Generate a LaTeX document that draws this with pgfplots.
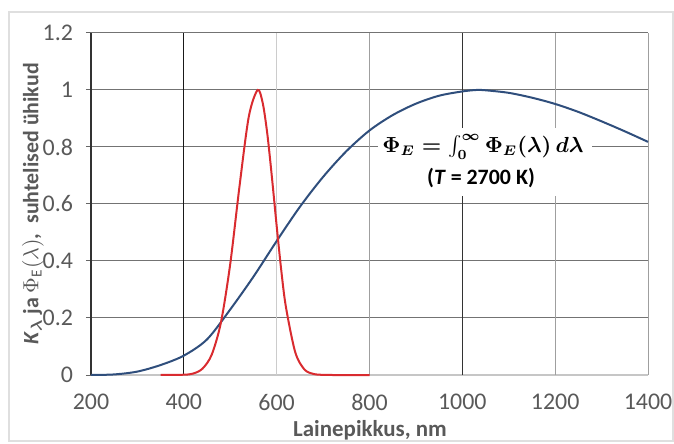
\documentclass[border=0pt]{standalone}
\usepackage{pgfplots}
\pgfplotsset{compat=1.18}
\usepackage{fontspec}
\setmainfont{Carlito}
\definecolor{TxtGray}{HTML}{595959}
\definecolor{PlanckBlue}{HTML}{2F4E7C}
\definecolor{EyeRed}{HTML}{D92B2F}
\newcommand\fluxformula{$\Phi_E=\int_0^\infty\Phi_E(\lambda)\,d\lambda$}
\newcommand\ylabeltext{\textit{K}{\boldmath$_\lambda$} ja $\Phi_{\mathrm{E}}(\lambda)$,\ \ suhtelised ühikud}

\begin{document}
\begin{tikzpicture}
\useasboundingbox (0,0) rectangle (337bp,222bp);
% light outer frame
\draw[gray!25, line width=0.6bp] (4.5bp,1.5bp) rectangle (336.5bp,216bp);

\begin{axis}[
    at={(45.5bp,34.5bp)}, anchor=south west,
    scale only axis,
    width=278.5bp, height=171bp,
    xmin=200, xmax=1400, ymin=0, ymax=1.2,
    xtick={200,400,600,800,1000,1200,1400},
    ytick={0,0.2,0.4,0.6,0.8,1,1.2},
    /pgf/number format/1000 sep={},
    /pgf/number format/assume math mode=true,
    ticklabel style={font=\fontsize{12}{14}\selectfont, text=TxtGray},
    yticklabel style={xshift=-3bp},
    xticklabel style={yshift=-3.5bp},
    axis lines*=left,
    x axis line style={draw=gray!45, line width=0.6bp},
    y axis line style={draw=black!80, line width=0.6bp},
    tick align=outside,
    xtick style={draw=none},
    ytick style={draw=black!60, line width=0.5bp},
    major tick length=2.5bp,
    ymajorgrids,
    major grid style={draw=black!55, line width=0.5bp},
    clip=false,
]
% vertical grid lines, each in its own shade as in the original
\draw[black!90, line width=0.5bp] (axis cs:400,0) -- (axis cs:400,1.2);
\draw[gray!40, line width=0.6bp] (axis cs:600,0) -- (axis cs:600,1.2);
\draw[gray!75, line width=0.5bp] (axis cs:800,0) -- (axis cs:800,1.2);
\draw[black!80, line width=0.5bp] (axis cs:1000,0) -- (axis cs:1000,1.2);
\draw[gray!75, line width=0.5bp] (axis cs:1200,0) -- (axis cs:1200,1.2);
\draw[gray!75, line width=0.5bp] (axis cs:1400,0) -- (axis cs:1400,1.2);

% relative spectral flux of a 2700 K source
\addplot[PlanckBlue, line width=1bp, smooth] coordinates {
(200,0) (250,0.002) (300,0.012) (350,0.035) (400,0.068) (450,0.125)
(500,0.23) (550,0.345) (600,0.47) (650,0.59) (700,0.695) (750,0.785)
(800,0.858) (850,0.912) (900,0.952) (950,0.98) (1000,0.995) (1030,1.0)
(1050,0.999) (1100,0.99) (1150,0.973) (1200,0.951) (1250,0.923)
(1300,0.89) (1350,0.855) (1400,0.818)
};

% relative luminous efficiency K_lambda
\addplot[EyeRed, line width=1bp, smooth] coordinates {
(350,0) (400,0.001) (420,0.005) (440,0.022) (460,0.071) (480,0.185)
(500,0.39) (520,0.663) (540,0.907) (559,1.0) (570,0.954) (580,0.844)
(590,0.69) (600,0.523) (610,0.366) (620,0.238) (640,0.08) (660,0.019)
(680,0.0035) (700,0.0005) (720,0) (800,0)
};
\end{axis}

% annotation with white backing
\fill[white] (189bp,124bp) rectangle (296bp,158bp);
\node[font=\fontsize{10.5}{12}\selectfont\boldmath] at (241.5bp,148.5bp) {\fluxformula};
\node[font=\fontsize{11}{13}\selectfont\bfseries] at (240.5bp,133bp) {(\textit{T} = 2700 K)};

\node[rotate=90, text=TxtGray, font=\fontsize{11}{13}\selectfont\bfseries]
  at (16.5bp,120bp) {\ylabeltext};
\node[text=TxtGray, font=\fontsize{11.5}{13}\selectfont\bfseries]
  at (185bp,7bp) {Lainepikkus, nm};
\end{tikzpicture}
\end{document}
